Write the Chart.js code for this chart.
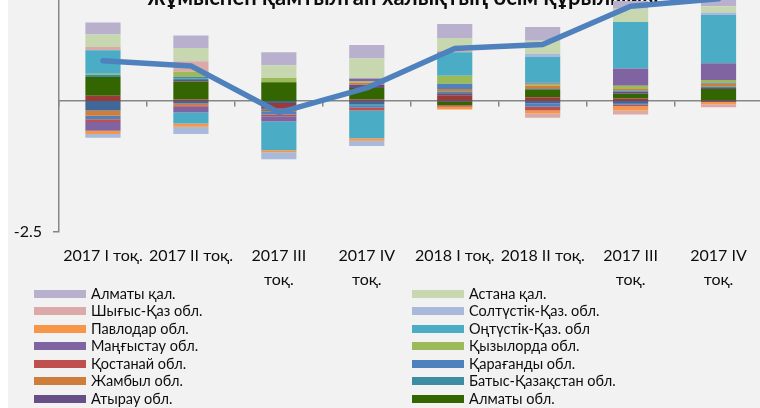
<!DOCTYPE html>
<html>
<head>
<meta charset="utf-8">
<script src="https://cdn.jsdelivr.net/npm/chart.js@4.4.1/dist/chart.umd.min.js"></script>
<style>
  html, body { margin: 0; padding: 0; width: 760px; height: 408px; overflow: hidden; background: #ffffff; }
  #panel { position: absolute; left: 8px; top: 0; width: 752px; height: 408px; background: #f2f2f2; }
  #wrap { position: absolute; left: 0; top: -60px; width: 780px; height: 360px; }
  #legend { position: absolute; left: 0; top: 0; width: 760px; height: 408px; font-family: Lato, sans-serif; font-size: 14.5px; color: #0d0d0d; }
  .item { position: absolute; height: 18px; line-height: 18px; white-space: nowrap; }
  .sw { position: absolute; left: 0; top: 5px; width: 52px; height: 8px; }
  .lbl { position: absolute; left: 57px; top: 0; }
</style>
</head>
<body>
<div id="panel"></div>
<div id="wrap"><canvas id="graf" width="780" height="360"></canvas></div>
<div id="legend"></div>
<script>
// kategorie (čtvrtletí) a popisky
const categories = ["2017 I тоқ.", "2017 II тоқ.", ["2017 III", "тоқ."], ["2017 IV", "тоқ."],
                    "2018 I тоқ.", "2018 II тоқ.", ["2017 III", "тоқ."], ["2017 IV", "тоқ."]];
const chartTitle = "жұмыспен қамтылған халықтың өсім құрылымы";
const yTicks = [-2.5, 2.5];

// regiony - příspěvky k růstu (p.p.)
const akmola      = [-0.18, -0.05, -0.04, -0.06, -0.02, -0.05, -0.04, -0.02];
const aktobe      = [0.10, 0.03, -0.10, 0.03, 0.11, 0.07, 0.05, 0.02];
const almatyObl   = [0.36, 0.34, 0.36, 0.22, -0.06, 0.14, 0.09, 0.21];
const atyrau      = [0, 0.03, -0.02, 0.06, 0.04, 0, 0.04, 0.02];
const batysKaz    = [0.04, 0.03, -0.03, -0.03, 0.03, 0.02, 0.02, 0.02];
const zhambyl     = [-0.10, -0.03, -0.02, 0.04, 0.05, 0.06, 0.03, 0.06];
const karagandy   = [-0.07, 0.03, -0.05, -0.04, 0.10, -0.06, -0.03, 0.02];
const kostanay    = [-0.05, -0.03, -0.03, -0.05, -0.03, -0.07, -0.03, 0];
const kyzylorda   = [0.02, 0.10, 0.08, 0.02, 0.15, 0.04, 0.06, 0.05];
const mangystau   = [-0.17, -0.11, -0.10, 0.06, 0, 0.02, 0.33, 0.32];
const ontustik    = [0.45, -0.21, -0.55, -0.53, 0.45, 0.49, 0.89, 0.92];
const pavlodar    = [-0.06, -0.06, -0.04, -0.05, -0.05, -0.06, -0.08, -0.04];
const soltustik   = [-0.07, -0.14, -0.13, -0.10, 0, 0.06, 0, 0.05];
const shygys      = [0.06, 0.20, 0, 0, 0.03, -0.08, -0.08, -0.06];
const astana      = [0.24, 0.25, 0.24, 0.38, 0.24, 0.25, 0.25, 0.12];
const almatyKal   = [0.23, 0.24, 0.25, 0.26, 0.27, 0.26, 0.15, 0.16];

// celkem (čára)
const totalValues = [0.77, 0.67, -0.22, 0.25, 1.0, 1.08, 1.81, 1.95];

const regionNames = ["Ақмола обл.", "Ақтөбе обл.", "Алматы обл.", "Атырау обл.", "Батыс-Қазақстан обл.",
  "Жамбыл обл.", "Қарағанды обл.", "Қостанай обл.", "Қызылорда обл.", "Маңғыстау обл.",
  "Оңтүстік-Қаз. обл", "Павлодар обл.", "Солтүстік-Қаз. обл.", "Шығыс-Қаз обл.", "Астана қал.", "Алматы қал."];
const regionValues = [akmola, aktobe, almatyObl, atyrau, batysKaz, zhambyl, karagandy, kostanay,
  kyzylorda, mangystau, ontustik, pavlodar, soltustik, shygys, astana, almatyKal];
const regionColors = ["#3f6797", "#9a3b38", "#336600", "#664e87", "#3c8da3", "#cf7d3a", "#4f81bd", "#c0504d",
  "#9bbb59", "#8064a2", "#4bacc6", "#f79646", "#a9b9d9", "#dba9a8", "#c7d7af", "#b9b0cd"];

const FONT = "Lato";
const TXT = "#0d0d0d";
const AXIS = "#868686";

const datasets = regionNames.map(function(name, i) {
  return {
    type: "bar", label: name, data: regionValues[i], backgroundColor: regionColors[i],
    borderWidth: 0, stack: "regiony", order: 1, xAxisID: "x", yAxisID: "y",
    barPercentage: 0.4, categoryPercentage: 1
  };
});
datasets.push({
  type: "line", label: "Қазақстан Республикасы", data: totalValues, borderColor: "#4f81bd",
  borderWidth: 5.5, pointRadius: 0, tension: 0, fill: false, stack: "celkem", order: 0,
  borderCapStyle: "round", borderJoinStyle: "round", xAxisID: "x", yAxisID: "y"
});

// nadpis je oříznutý nahoře, kreslíme ho přes plochu grafu
const titlePlugin = {
  id: "topTitle",
  beforeDatasetsDraw(chart) {
    const ctx = chart.ctx;
    ctx.save();
    ctx.font = "bold 22px " + FONT;
    ctx.fillStyle = TXT;
    ctx.textAlign = "center";
    ctx.textBaseline = "alphabetic";
    ctx.fillText(chartTitle, 403, 65);
    ctx.restore();
  }
};

new Chart(document.getElementById("graf").getContext("2d"), {
  data: { labels: categories, datasets: datasets },
  plugins: [titlePlugin],
  options: {
    responsive: false, animation: false,
    layout: { padding: { left: 0, right: 17.5, top: 30, bottom: 0 } },
    plugins: { legend: { display: false }, tooltip: { enabled: false }, title: { display: false } },
    scales: {
      x: {
        position: { y: 0 }, stacked: true, offset: true, z: 1,
        grid: { display: true, drawOnChartArea: false, drawTicks: true, tickLength: 5, offset: true, color: AXIS, lineWidth: 1.5 },
        border: { display: true, color: AXIS, width: 1.5 },
        ticks: { display: false }
      },
      x2: {
        type: "category", axis: "x", position: "bottom", offset: true,
        grid: { display: false, drawTicks: false }, border: { display: false },
        ticks: { maxRotation: 0, autoSkip: false, padding: 11.5, color: TXT, font: { family: FONT, size: 16, lineHeight: 1.5 } },
        afterFit: function(s) { s.height = 68; }
      },
      y: {
        stacked: true, min: yTicks[0], max: yTicks[1],
        grid: { display: true, drawOnChartArea: false, drawTicks: true, tickLength: 6, color: AXIS, lineWidth: 1.5 },
        border: { display: true, color: AXIS, width: 1.5 },
        ticks: { padding: 11, color: TXT, font: { family: FONT, size: 16 } },
        afterBuildTicks: function(s) { s.ticks = yTicks.map(function(v) { return { value: v }; }); },
        afterFit: function(s) { s.width = 59; }
      }
    }
  }
});

// legenda ve dvou sloupcích (pořadí obrácené jako v Excelu)
const legendEl = document.getElementById("legend");
const poradi = regionNames.map(function(n, i) { return i; }).reverse();
poradi.forEach(function(idx, k) {
  const col = k % 2, row = Math.floor(k / 2);
  const item = document.createElement("div");
  item.className = "item";
  item.style.left = (col === 0 ? 34 : 412) + "px";
  item.style.top = (284.7 + row * 17.5) + "px";
  item.innerHTML = '<span class="sw" style="background:' + regionColors[idx] + '"></span><span class="lbl"></span>';
  item.querySelector(".lbl").textContent = regionNames[idx];
  legendEl.appendChild(item);
});
</script>
</body>
</html>
